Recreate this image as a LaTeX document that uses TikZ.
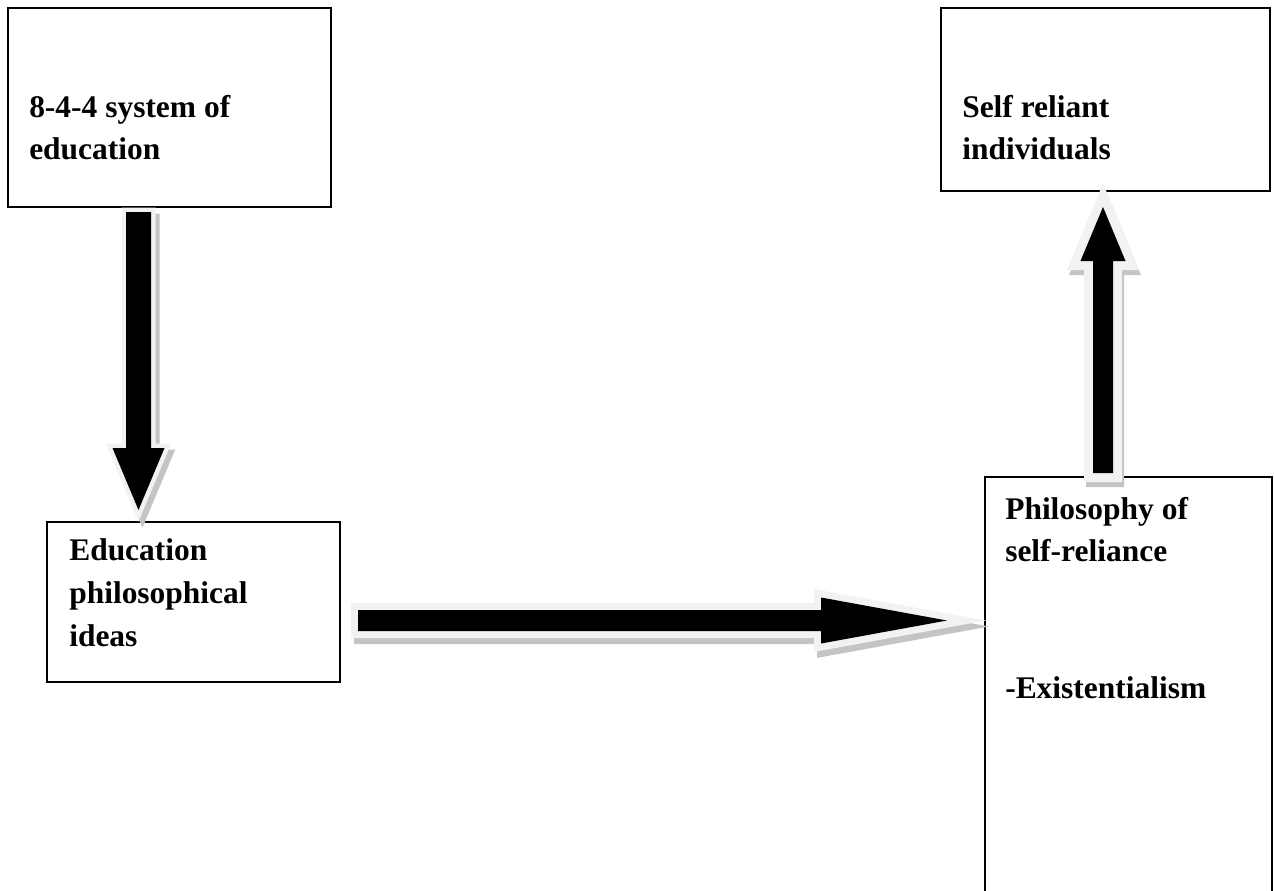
\documentclass[tikz,border=0pt]{standalone}
\usepackage{fontspec}
\setmainfont{Liberation Serif}
\definecolor{edgelight}{HTML}{F2F2F2}
\definecolor{shadowgray}{HTML}{C4C4C4}
\tikzset{
  boxstyle/.style={draw=black, line width=1.5pt, fill=white},
  labelstyle/.style={anchor=base west, inner sep=0pt, align=left,
    font=\fontsize{23.6}{31}\selectfont\bfseries},
}
% #1 start, #2 rotation, #3 length, #4 shaft half, #5 head half, #6 head length, #7 border line width, #8 shadow shift
\newcommand\blkshape[5]{(0,-#2) -- (#1-#4,-#2) -- (#1-#4,-#3) -- (#1,0) -- (#1-#4,#3) -- (#1-#4,#2) -- (0,#2) -- cycle}
\newcommand\blkarrow[8]{%
  \begin{scope}[shift={#1}, shift={#8}, rotate=#2]
    \path[fill=shadowgray, draw=shadowgray, line width=#7, line join=miter] \blkshape{#3}{#4}{#5}{#6}{};
  \end{scope}
  \begin{scope}[shift={#1}, rotate=#2]
    \path[fill=edgelight, draw=edgelight, line width=#7, line join=miter] \blkshape{#3}{#4}{#5}{#6}{};
    \fill[black] \blkshape{#3}{#4}{#5}{#6}{};
  \end{scope}}
\begin{document}
\begin{tikzpicture}[x=0.75pt, y=-0.75pt]
\useasboundingbox (0,0) rectangle (1274,890);
% boxes
\draw[boxstyle] (8,8) rectangle (331,207);
\node[inner sep=0pt] (b1) at (169.5,107.5) {};
\draw[boxstyle] (47,522) rectangle (340,682);
\node[inner sep=0pt] (b2) at (193.5,602) {};
\draw[boxstyle] (941,8) rectangle (1270,191);
\node[inner sep=0pt] (b3) at (1105.5,99.5) {};
\draw[boxstyle] (985,477) rectangle (1272,900);
\node[inner sep=0pt] (b4) at (1128.5,688) {};
% texts (anchor = baseline of last line)
\node[labelstyle] (t1) at (29,159) {8-4-4 system of\\education};
\node[labelstyle, font=\fontsize{23.6}{32}\selectfont\bfseries] (t2) at (69,646) {Education\\philosophical\\ideas};
\node[labelstyle] (t3) at (962,159) {Self reliant\\individuals};
\node[labelstyle] (t4) at (1005,561) {Philosophy of\\self-reliance};
\node[labelstyle] (t5) at (1005,698) {-Existentialism};
% arrows
\coordinate (a1) at (138.5,212);
\coordinate (a2) at (358,620.5);
\coordinate (a3) at (1103,473);
\blkarrow{(a1)}{-90}{298}{12.5}{26}{62}{6.75pt}{(4,6)}
\blkarrow{(a2)}{0}{589}{10.5}{23}{126}{10.5pt}{(3,6)}
\blkarrow{(a3)}{90}{266}{10}{22.5}{54}{13.5pt}{(2,5)}
\end{tikzpicture}
\end{document}
